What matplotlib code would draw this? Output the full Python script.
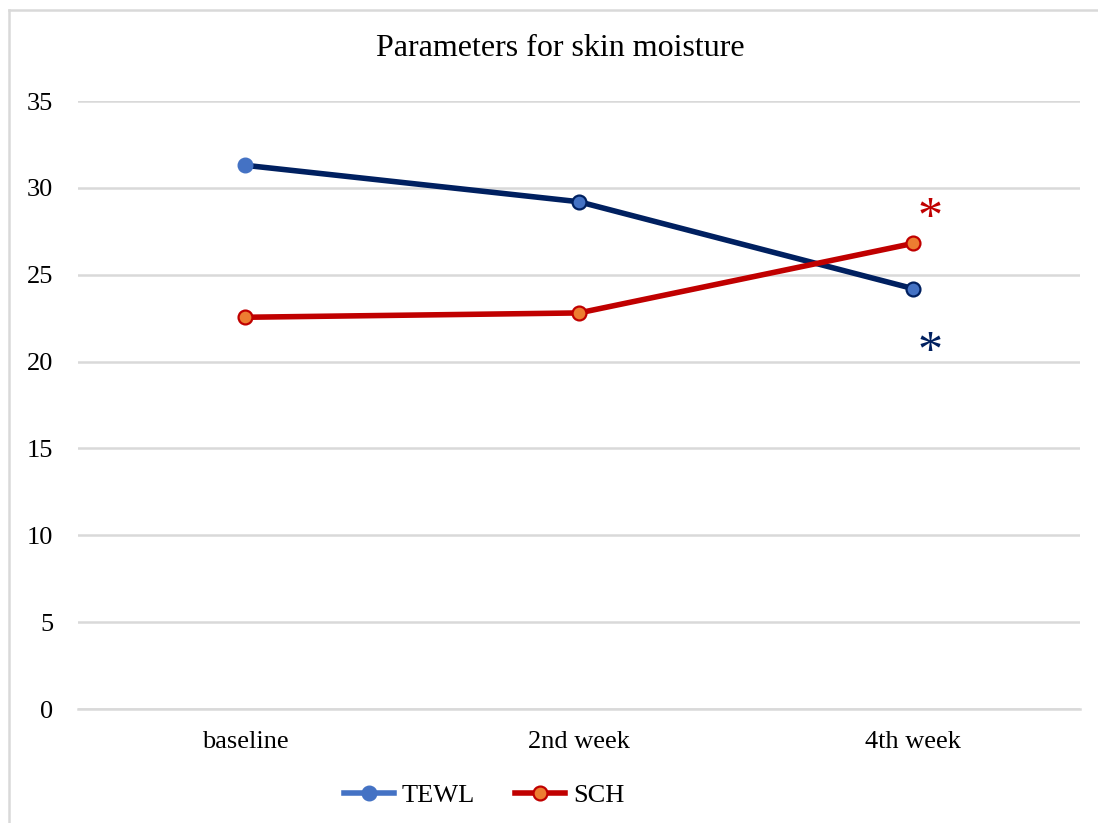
import matplotlib.pyplot as plt
from matplotlib.lines import Line2D

plt.rcParams["font.family"] = ["Liberation Serif", "DejaVu Serif"]

categories = ["baseline", "2nd week", "4th week"]
tewl = [31.3, 29.2, 24.2]
sch = [22.55, 22.8, 26.8]
# significance marks (category index, y value)
star_tewl = (2.05, 20.5)
star_sch = (2.05, 28.2)

NAVY = "#002060"
BLUE = "#4472C4"
RED = "#C00000"
ORANGE = "#ED7D31"
GRID = "#D9D9D9"

fig = plt.figure(figsize=(10.98, 8.23), dpi=100)
fig.patch.set_facecolor("white")
ax = fig.add_axes([78 / 1098, 1 - 709 / 823, (1080 - 78) / 1098, (709 - 101) / 823])

x = list(range(len(categories)))
ax.plot(x, tewl, color=NAVY, lw=4, zorder=3)
ax.plot(x, sch, color=RED, lw=4, zorder=3)
# first TEWL marker has no dark outline in the original
ax.plot(x[:1], tewl[:1], ls="none", marker="o", ms=10.5, mfc=BLUE, mec=BLUE, zorder=4)
ax.plot(x[1:], tewl[1:], ls="none", marker="o", ms=10, mfc=BLUE, mec=NAVY, mew=1.6, zorder=4)
ax.plot(x, sch, ls="none", marker="o", ms=10, mfc=ORANGE, mec=RED, mew=1.6, zorder=4)

ax.text(star_sch[0], star_sch[1], "*", color=RED, fontsize=36,
        ha="center", va="center")
ax.text(star_tewl[0], star_tewl[1], "*", color=NAVY, fontsize=36,
        ha="center", va="center")

ax.set_xlim(-0.5, 2.5)
ax.set_ylim(0, 35)
ax.set_yticks(range(0, 36, 5))
ax.set_xticks(x)
ax.set_xticklabels(categories)
ax.yaxis.grid(True, color=GRID, lw=1.8)
ax.set_axisbelow(True)
for s in ["top", "right", "left"]:
    ax.spines[s].set_visible(False)
ax.spines["bottom"].set_color(GRID)
ax.spines["bottom"].set_linewidth(1.8)
ax.tick_params(axis="both", length=0, labelsize=19, colors="black")
ax.tick_params(axis="y", pad=18)
ax.tick_params(axis="x", pad=16)

fig.text(560 / 1098, 1 - 49 / 823, "Parameters for skin moisture",
         ha="center", va="center", fontsize=23)

handles = [
    Line2D([], [], color=BLUE, lw=4, marker="o", ms=10.5, mfc=BLUE, mec=BLUE),
    Line2D([], [], color=RED, lw=4, marker="o", ms=10, mfc=ORANGE, mec=RED, mew=1.6),
]
fig.legend(handles, ["TEWL", "SCH"], loc="center", bbox_to_anchor=(484 / 1098, 1 - 795 / 823),
           ncol=2, frameon=False, fontsize=19, handlelength=1.9, handletextpad=0.3,
           columnspacing=1.5)

# chart-area border (cropped at right and bottom)
fig.add_artist(Line2D([9 / 1098, 9 / 1098], [0, 1 - 10 / 823], color=GRID, lw=1.8,
                      transform=fig.transFigure))
fig.add_artist(Line2D([9 / 1098, 1], [1 - 10 / 823, 1 - 10 / 823], color=GRID, lw=1.8,
                      transform=fig.transFigure))

fig.savefig("out.png", dpi=100, facecolor="white")
